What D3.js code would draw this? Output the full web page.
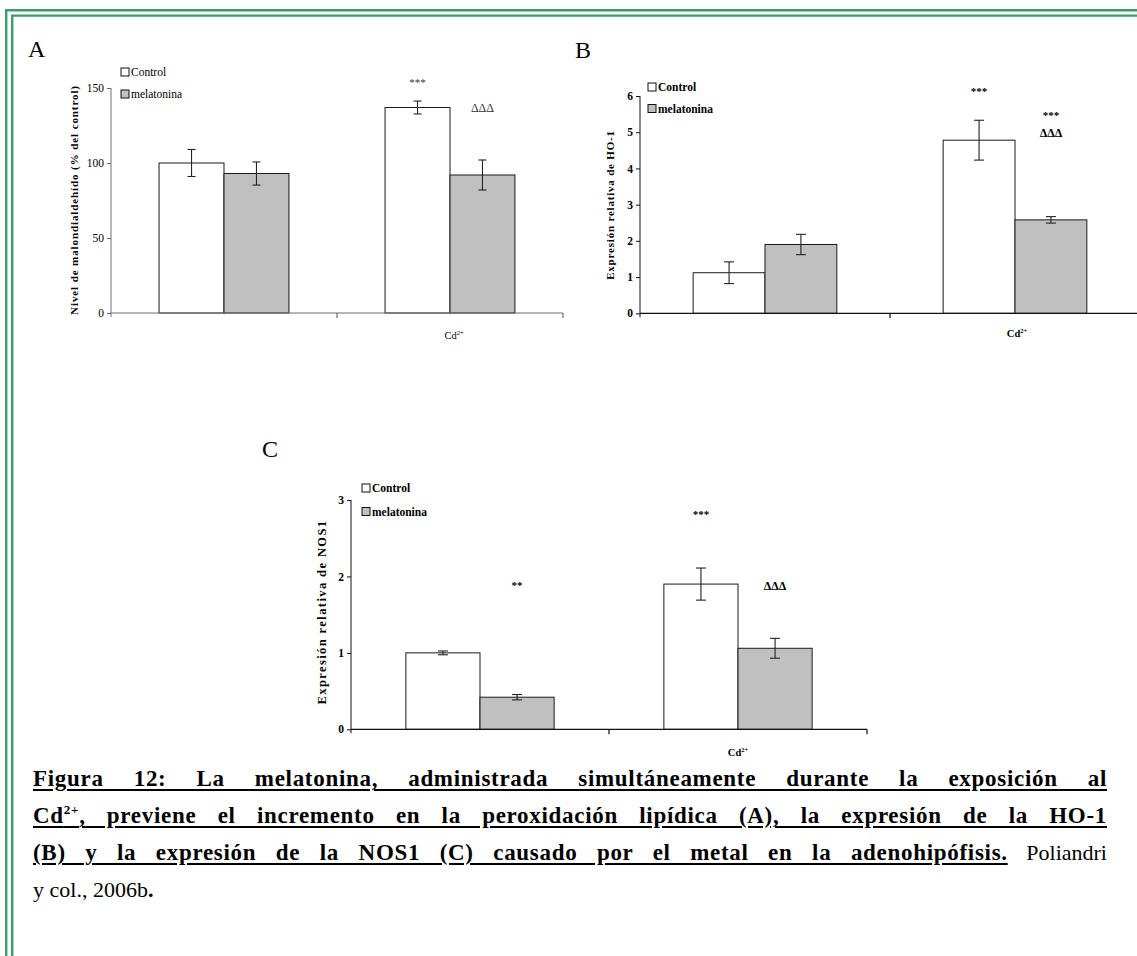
<!DOCTYPE html>
<html>
<head>
<meta charset="utf-8">
<script src="https://cdn.jsdelivr.net/npm/d3@7"></script>
<style>
  body { margin: 0; background: #fff; }
  #fig { position: relative; width: 1137px; height: 956px; overflow: hidden; }
  #fig svg { position: absolute; left: 0; top: 0; }
  .cap { position: absolute; left: 33px; font-family: "Liberation Serif", serif;
         font-size: 22px; line-height: 30px; white-space: nowrap; }
  .cap > span { display: inline-block; white-space: nowrap; }
  .u { font-weight: bold; font-size: 23px; letter-spacing: 0.7px; text-decoration: underline; text-decoration-thickness: 2px; text-underline-offset: 3px; }
</style>
</head>
<body>
<div id="fig"></div>
<script>
const groups = ["g1", "Cd"];
const series = ["Control", "melatonina"];

// panel A: malondialdehido (% del control)
const aControl = [100, 137];
const aControlErr = [9, 4.3];
const aMel = [93, 92];
const aMelErr = [7.7, 10];
const aTicks = [0, 50, 100, 150];

// panel B: HO-1
const bControl = [1.12, 4.78];
const bControlErr = [0.3, 0.55];
const bMel = [1.9, 2.58];
const bMelErr = [0.28, 0.09];
const bTicks = [0, 1, 2, 3, 4, 5, 6];

// panel C: NOS1
const cControl = [1.0, 1.9];
const cControlErr = [0.025, 0.21];
const cMel = [0.42, 1.06];
const cMelErr = [0.035, 0.13];
const cTicks = [0, 1, 2, 3];

// significance marks: group, series, value (vertical centre), text
const aMarks = [[1, 0, 154, "***"], [1, 1, 136.5, "ΔΔΔ"]];
const bMarks = [[1, 0, 6.15, "***"], [1, 1, 5.48, "***"], [1, 1, 4.99, "ΔΔΔ"]];
const cMarks = [[0, 1, 1.89, "**"], [1, 0, 2.82, "***"], [1, 1, 1.88, "ΔΔΔ"]];

const W = 1137, H = 956;
const serif = "Liberation Serif, Times New Roman, serif";

const svg = d3.select("#fig").append("svg")
    .attr("width", W)
    .attr("height", H);

// double green frame (only top and left visible)
const green = "#3d9c6c";
[[6.2, 10.2], [12.2, 15.6]].forEach(([x, y]) => {
    svg.append("line").attr("x1", x).attr("y1", y).attr("x2", x).attr("y2", H)
        .attr("stroke", green).attr("stroke-width", 2.4);
    svg.append("line").attr("x1", x - 1.2).attr("y1", y).attr("x2", W).attr("y2", y)
        .attr("stroke", green).attr("stroke-width", 2.4);
});

function drawPanel(p) {
    const g = svg.append("g");

    const x = d3.scaleBand().domain(groups).range([p.x0, p.x1]);
    const xs = d3.scaleBand().domain(series).range([0, x.bandwidth()]).paddingOuter(0.74);
    const y = d3.scaleLinear().domain([0, p.max]).range([p.y0, p.y1]);

    // panel letter
    g.append("text").attr("x", p.letterX).attr("y", p.letterY)
        .attr("font-family", serif).attr("font-size", 24).text(p.letter);

    const rows = [];
    groups.forEach((grp, i) => {
        rows.push({ grp, s: series[0], v: p.control[i], e: p.controlErr[i] });
        rows.push({ grp, s: series[1], v: p.mel[i], e: p.melErr[i] });
    });

    g.selectAll("rect.bar").data(rows).join("rect")
        .attr("class", "bar")
        .attr("x", d => x(d.grp) + xs(d.s))
        .attr("y", d => y(d.v))
        .attr("width", xs.bandwidth())
        .attr("height", d => y(0) - y(d.v))
        .attr("fill", d => d.s === "Control" ? "#ffffff" : "#c0c0c0")
        .attr("stroke", "#1a1a1a")
        .attr("stroke-width", 1);

    // error bars
    const cx = d => x(d.grp) + xs(d.s) + xs.bandwidth() / 2;
    const eb = g.selectAll("g.err").data(rows).join("g").attr("class", "err")
        .attr("stroke", "#222").attr("stroke-width", 1.1);
    eb.append("line").attr("x1", cx).attr("x2", cx)
        .attr("y1", d => y(d.v + d.e)).attr("y2", d => y(d.v - d.e));
    eb.append("line").attr("x1", d => cx(d) - p.cap).attr("x2", d => cx(d) + p.cap)
        .attr("y1", d => y(d.v + d.e)).attr("y2", d => y(d.v + d.e));
    eb.append("line").attr("x1", d => cx(d) - p.cap).attr("x2", d => cx(d) + p.cap)
        .attr("y1", d => y(d.v - d.e)).attr("y2", d => y(d.v - d.e));

    // y axis
    const ya = g.append("g").attr("transform", `translate(${p.x0},0)`)
        .call(d3.axisLeft(y).tickValues(p.ticks).tickSize(4).tickPadding(3).tickFormat(d3.format("d")));
    ya.select(".domain").attr("d", `M0,${p.y1}V${p.y0 + 4}`);
    ya.selectAll("line, path").attr("stroke", p.axisColor);
    ya.selectAll("text").attr("font-family", serif).attr("font-size", 11.5)
        .attr("font-weight", p.bold ? "bold" : "normal").attr("fill", "#000");

    // x axis: ticks only between categories and at the end
    const xa = g.append("g").attr("transform", `translate(0,${p.y0})`);
    xa.append("line").attr("x1", p.x0).attr("x2", p.x1).attr("stroke", p.axisColor).attr("stroke-width", 1.2);
    xa.selectAll("line.tk").data([x("Cd"), p.x1]).join("line").attr("class", "tk")
        .attr("x1", d => d).attr("x2", d => d).attr("y1", 0).attr("y2", 5)
        .attr("stroke", p.axisColor).attr("stroke-width", 1.2);
    const lab = xa.append("text")
        .attr("x", x("Cd") + x.bandwidth() / 2 + p.cdDx)
        .attr("y", p.cdY - p.y0)
        .attr("text-anchor", "middle")
        .attr("font-family", serif).attr("font-size", 10.5)
        .attr("font-weight", p.bold ? "bold" : "normal");
    lab.append("tspan").text("Cd");
    lab.append("tspan").attr("dy", -4).attr("font-size", 6.5).text("2+");

    // y title
    g.append("text")
        .attr("transform", `translate(${p.titleX},${p.titleY}) rotate(-90)`)
        .attr("text-anchor", "middle")
        .attr("dominant-baseline", "central")
        .attr("font-family", serif).attr("font-weight", "bold")
        .attr("font-size", p.titleSize).attr("letter-spacing", p.titleSpacing)
        .text(p.title);

    // legend
    const leg = g.selectAll("g.leg").data(series).join("g").attr("class", "leg")
        .attr("transform", (d, i) => `translate(${p.legX},${p.legY + i * p.legGap})`);
    leg.append("rect").attr("x", 0).attr("y", -4).attr("width", 8).attr("height", 8)
        .attr("fill", d => d === "Control" ? "#fff" : "#c0c0c0")
        .attr("stroke", "#111").attr("stroke-width", 1);
    leg.append("text").attr("x", 10).attr("y", 0).attr("dominant-baseline", "central")
        .attr("font-family", serif).attr("font-size", 11.5)
        .attr("font-weight", p.bold ? "bold" : "normal").text(d => d);

    // significance marks
    g.selectAll("text.mk").data(p.marks).join("text").attr("class", "mk")
        .attr("x", d => x(groups[d[0]]) + xs(series[d[1]]) + xs.bandwidth() / 2)
        .attr("y", d => y(d[2]))
        .attr("text-anchor", "middle")
        .attr("dominant-baseline", "central")
        .attr("font-family", serif).attr("font-size", d => d[3] === "ΔΔΔ" ? 12 : 11)
        .attr("font-weight", p.bold ? "bold" : "normal")
        .attr("fill", p.bold ? "#000" : "#333")
        .text(d => d[3]);
}

drawPanel({
    letter: "A", letterX: 28, letterY: 57,
    x0: 111, x1: 563, y0: 313, y1: 88, max: 150, ticks: aTicks,
    control: aControl, controlErr: aControlErr, mel: aMel, melErr: aMelErr,
    cap: 4, axisColor: "#6e6e6e", bold: false,
    cdY: 339, cdDx: 4,
    title: "Nivel de malondialdehído (% del control)", titleX: 74, titleY: 200,
    titleSize: 11, titleSpacing: 0.9,
    legX: 121, legY: 72, legGap: 22, marks: aMarks
});

drawPanel({
    letter: "B", letterX: 575, letterY: 58,
    x0: 640, x1: 1140, y0: 313.3, y1: 96, max: 6, ticks: bTicks,
    control: bControl, controlErr: bControlErr, mel: bMel, melErr: bMelErr,
    cap: 5, axisColor: "#111", bold: true,
    cdY: 337, cdDx: 2,
    title: "Expresión relativa de HO-1", titleX: 610, titleY: 205,
    titleSize: 11, titleSpacing: 0.8,
    legX: 648, legY: 87, legGap: 21.5, marks: bMarks
});

drawPanel({
    letter: "C", letterX: 262, letterY: 457,
    x0: 351, x1: 867, y0: 729.3, y1: 500, max: 3, ticks: cTicks,
    control: cControl, controlErr: cControlErr, mel: cMel, melErr: cMelErr,
    cap: 5, axisColor: "#111", bold: true,
    cdY: 756, cdDx: 0,
    title: "Expresión relativa de NOS1", titleX: 322, titleY: 612,
    titleSize: 12.5, titleSpacing: 1.4,
    legX: 362, legY: 488, legGap: 23.5, marks: cMarks
});

// caption, lines 1-3 justified to the text width by word spacing
const capWidth = 1074;
const capLines = [
    { top: 764, html: '<span class="u">Figura 12: La melatonina, administrada simultáneamente durante la exposición al</span>', just: true },
    { top: 801, html: '<span class="u">Cd<sup style="font-size:13px;line-height:0">2+</sup>, previene el incremento en la peroxidación lipídica (A), la expresión de la HO-1</span>', just: true },
    { top: 838, html: '<span class="u">(B) y la expresión de la NOS1 (C) causado por el metal en la adenohipófisis.</span> Poliandri', just: true },
    { top: 875, html: 'y col., 2006b<b>.</b>', just: false }
];
d3.select("#fig").selectAll("div.cap").data(capLines).join("div")
    .attr("class", "cap")
    .style("top", d => d.top + "px")
    .append("span")
    .html(d => d.html)
    .each(function (d) {
        if (!d.just) return;
        const w = this.getBoundingClientRect().width;
        const spaces = (this.textContent.match(/ /g) || []).length;
        d3.select(this).style("word-spacing", ((capWidth - w) / spaces) + "px");
    });
</script>
</body>
</html>
